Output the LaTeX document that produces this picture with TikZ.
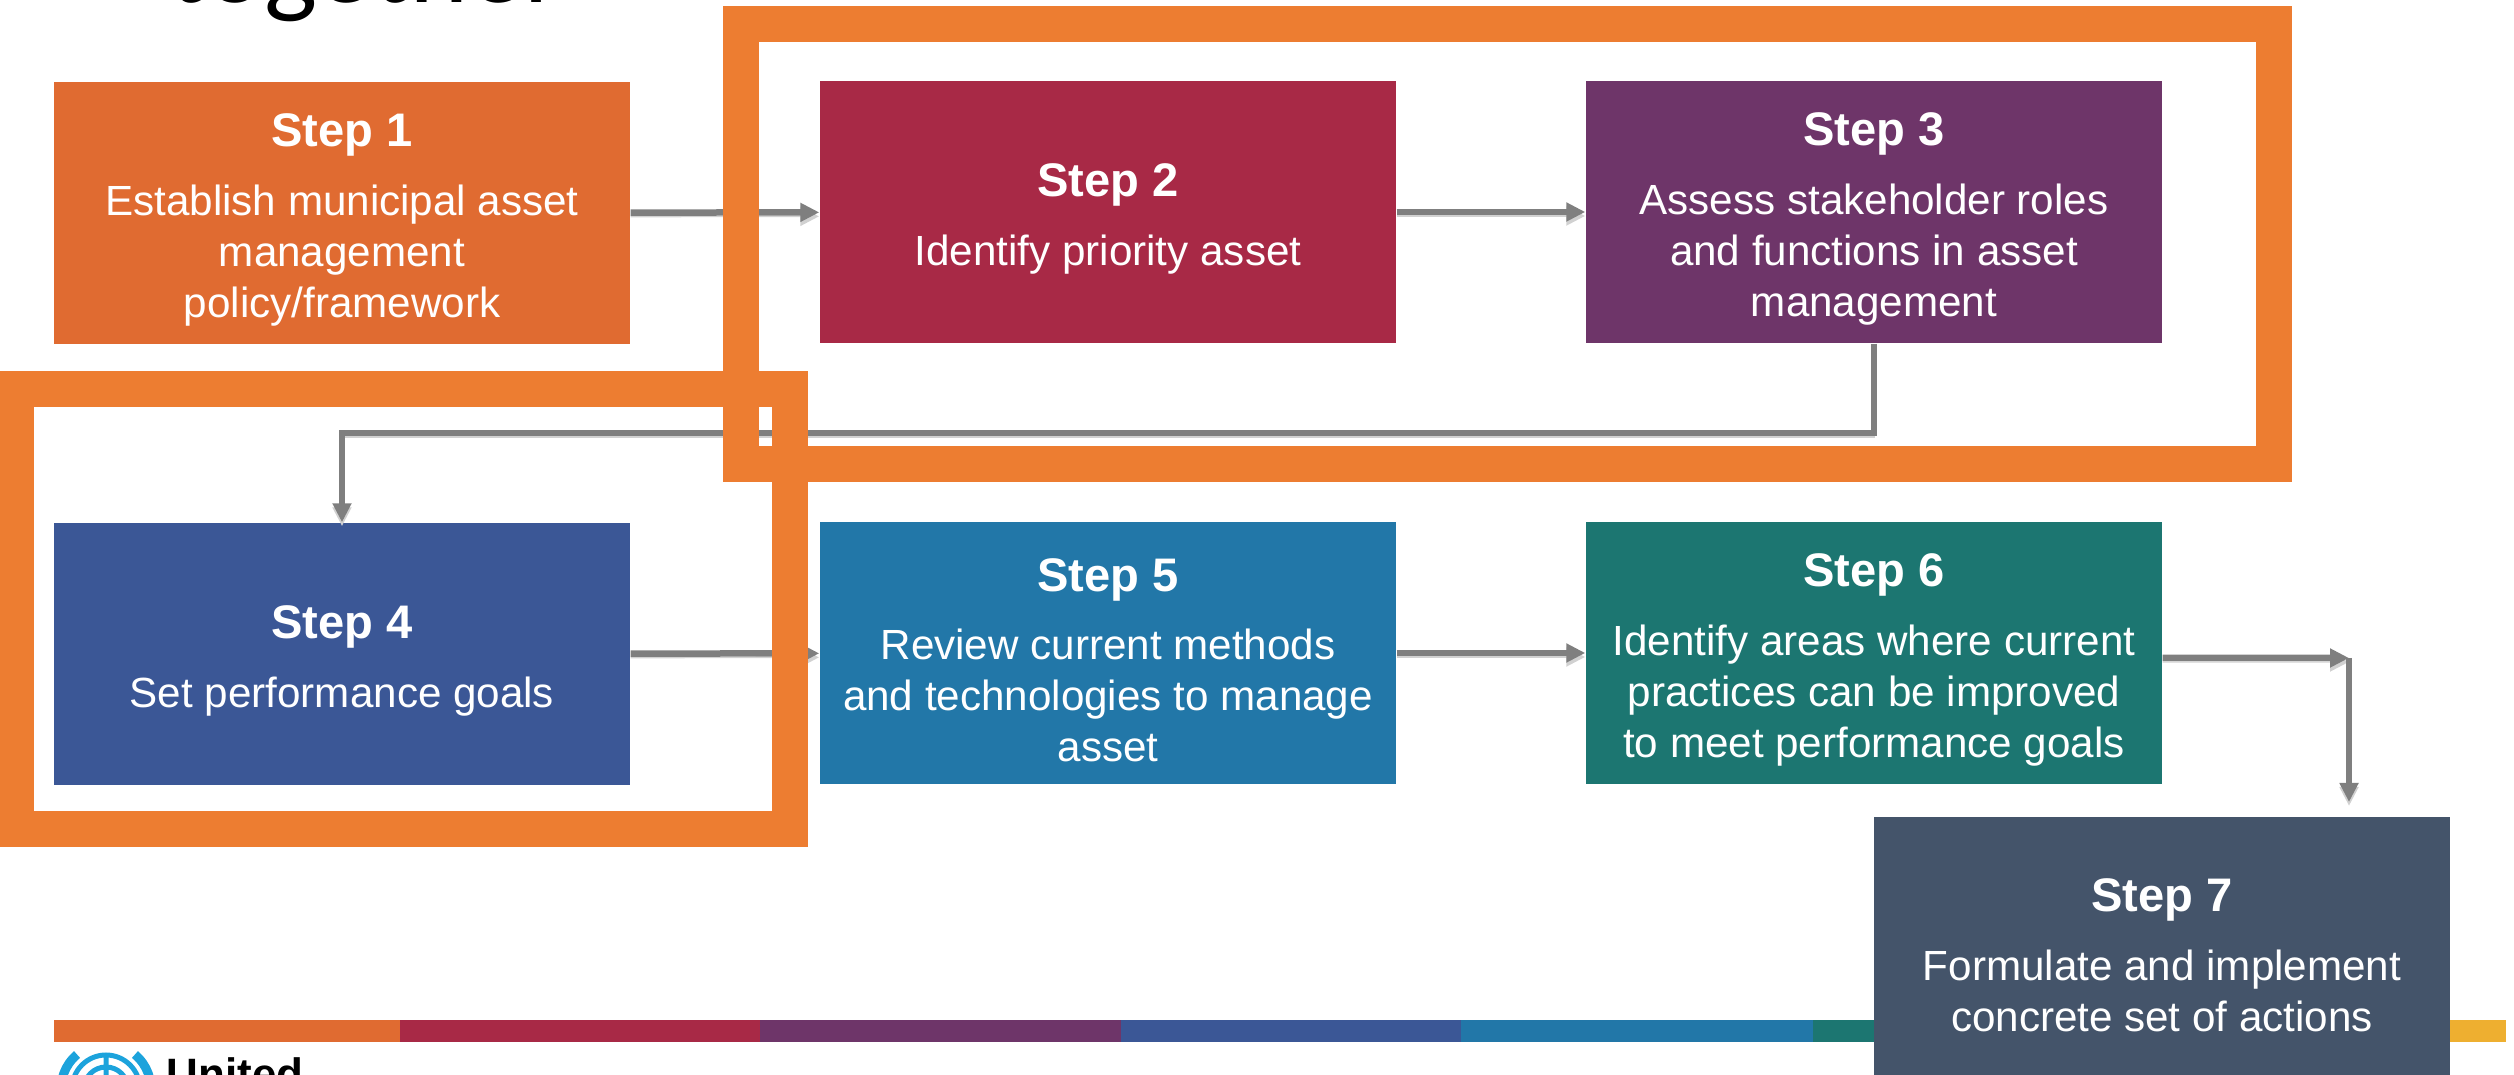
\documentclass[tikz,border=0pt]{standalone}
\usepackage{fontspec}
\setmainfont{Liberation Sans}
\newfontfamily\titlefont{Carlito}
\usepackage{xcolor}
\usepackage{tikz}
\usetikzlibrary{shapes,arrows}
\usetikzlibrary{positioning}
\usetikzlibrary{arrows.meta}
\tikzset{>=stealth}
\definecolor{cpolicy}{HTML}{E06B31}
\definecolor{cpriority}{HTML}{A82946}
\definecolor{croles}{HTML}{6E3569}
\definecolor{cgoals}{HTML}{3B5796}
\definecolor{cmethods}{HTML}{2277A8}
\definecolor{cimprove}{HTML}{1C7671}
\definecolor{cactions}{HTML}{44546A}
\definecolor{cgold}{HTML}{EEAF30}
\definecolor{frameorange}{HTML}{ED7D31}
\definecolor{arrowgray}{HTML}{7F7F7F}
\definecolor{unblue}{HTML}{1CA3DC}
\tikzstyle{line} = [draw=arrowgray, line width=0.65mm, -{Triangle[length=1.9mm,width=1.8mm]},
preaction={draw=black!18, transform canvas={yshift=-0.4mm}}]
\newcommand{\steptitle}[1]{{\fontsize{13.4}{16}\selectfont\bfseries\rule{0pt}{4.7mm}#1}}

\begin{document}
\begin{tikzpicture}[
		stepbox/.style={rectangle, minimum width=5.76cm, minimum height=2.62cm,
			inner sep=0pt, text=white, align=center,
			font=\fontsize{12}{14.5}\selectfont},
		hilite/.style={draw=frameorange, line width=3.6mm}]
		\useasboundingbox (0,0) rectangle (25.14,-10.75);
		\clip (0,0) rectangle (25.14,-10.75);
		%% Slide title and footer
		\node [anchor=base west, inner sep=0pt, font=\titlefont\fontsize{32}{36}\selectfont] (title) at (1.68,-0.03) {together};
		\fill [cpolicy] (0.537,-10.20) rectangle (4.00,-10.417);
		\fill [cpriority] (4.00,-10.20) rectangle (7.60,-10.417);
		\fill [croles] (7.60,-10.20) rectangle (11.207,-10.417);
		\fill [cgoals] (11.207,-10.20) rectangle (14.606,-10.417);
		\fill [cmethods] (14.606,-10.20) rectangle (18.126,-10.417);
		\fill [cimprove] (18.126,-10.20) rectangle (21.6,-10.417);
		\fill [cgold] (21.6,-10.20) rectangle (25.06,-10.417);
		\draw [unblue, line width=0.5mm] (1.06,-10.89) circle (0.34) (1.06,-10.89) circle (0.22)
			(1.06,-10.55) -- (1.06,-11.2);
		\draw [unblue, line width=0.9mm] (1.06,-10.89) ++(130:0.45) arc (130:230:0.45)
			(1.06,-10.89) ++(50:0.45) arc (50:-50:0.45);
		\node [anchor=base west, inner sep=0pt, font=\fontsize{12.5}{15}\selectfont\bfseries] (un) at (1.66,-10.895) {United};
		%% Steps
		\node [stepbox, fill=cpolicy] at (3.42,-2.13) (policy) {\steptitle{Step 1}\\[5pt]
			Establish municipal asset\\ management\\ policy/framework};
		\node [stepbox, fill=cpriority] at (11.08,-2.12) (priority) {\steptitle{Step 2}\\[5pt]
			Identify priority asset};
		\node [stepbox, fill=croles] at (18.74,-2.12) (roles) {\steptitle{Step 3}\\[5pt]
			Assess stakeholder roles\\ and functions in asset\\ management};
		\node [stepbox, fill=cgoals] at (3.42,-6.54) (goals) {\steptitle{Step 4}\\[5pt]
			Set performance goals};
		\node [stepbox, fill=cmethods] at (11.08,-6.53) (methods) {\steptitle{Step 5}\\[5pt]
			Review current methods\\ and technologies to manage\\ asset};
		\node [stepbox, fill=cimprove] at (18.74,-6.53) (improve) {\steptitle{Step 6}\\[5pt]
			Identify areas where current\\ practices can be improved\\ to meet performance goals};
		\node [stepbox, fill=cactions] at (21.62,-9.48) (actions) {\steptitle{Step 7}\\[5pt]
			Formulate and implement\\ concrete set of actions};
		\coordinate (back) at (0,-4.33);
		\coordinate (turn) at (23.49,-6.58);
		\coordinate (drop) at (23.49,-8.02);
		%% Links
		\path [line] (policy) to (priority);
		\path [line] (priority) to (roles);
		\path [line] (roles.south) -- (roles.south |- back) -| (goals.north);
		\path [line] (goals) to (methods);
		\path [line] (methods) to (improve);
		\path [line] ([yshift=-0.5mm]improve.east) -- (turn);
		\path [line] (turn) -- (drop);
		%% Highlight frames
		\draw [hilite] (7.405,-0.243) rectangle (22.74,-4.637);
		\draw [hilite] (0.157,-3.895) rectangle (7.903,-8.293);
		\end{tikzpicture}
\end{document}
